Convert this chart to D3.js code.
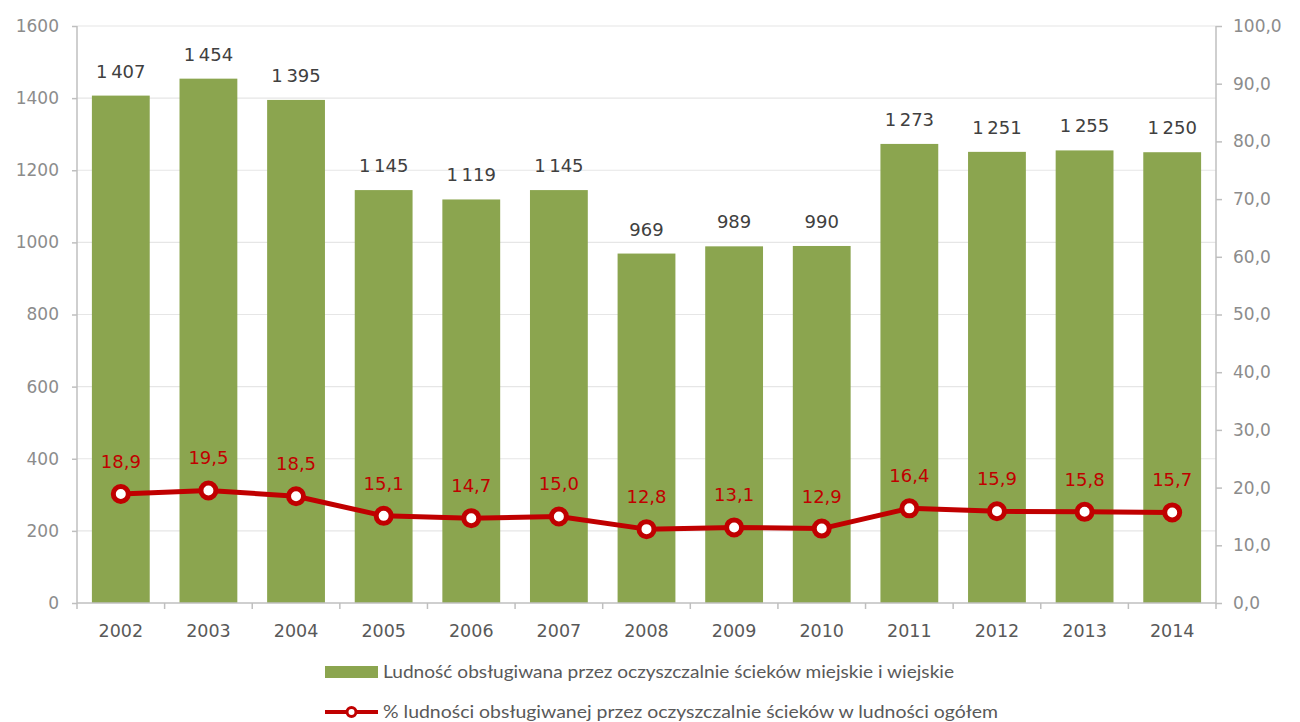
<!DOCTYPE html>
<html><head><meta charset="utf-8">
<script src="https://cdn.jsdelivr.net/npm/d3@7"></script>
<style>body{margin:0;background:#fff;} svg{display:block;}</style>
</head><body>
<script>
const years = ["2002","2003","2004","2005","2006","2007","2008","2009","2010","2011","2012","2013","2014"];
const population = [1407,1454,1395,1145,1119,1145,969,989,990,1273,1251,1255,1250];
const percentShare = [18.9,19.5,18.5,15.1,14.7,15.0,12.8,13.1,12.9,16.4,15.9,15.8,15.7];
const leftTicks = [0,200,400,600,800,1000,1200,1400,1600];
const rightTicks = [0,10,20,30,40,50,60,70,80,90,100];
const legendLabels = ["Ludność obsługiwana przez oczyszczalnie ścieków miejskie i wiejskie",
  "% ludności obsługiwanej przez oczyszczalnie ścieków w ludności ogółem"];

const W=1300,H=722;
const L=77,R=1216,T=26,B=603;
const green="#8ba54f", red="#c00000", axisCol="#bfbfbf", gridCol="#e6e6e6";
const numFont="'DejaVu Sans', sans-serif";

const svg=d3.select("body").append("svg").attr("width",W).attr("height",H);

const xOuter=d3.scaleBand().domain(years).range([L,R]);
const x=d3.scaleBand().domain(years).range([L,R]).paddingInner(0.34).paddingOuter(0.17);
const y=d3.scaleLinear().domain([0,1600]).range([B,T]);
const y2=d3.scaleLinear().domain([0,100]).range([B,T]);

// gridlines
svg.append("g").selectAll("line").data(leftTicks.filter(d=>d>0)).join("line")
  .attr("x1",L).attr("x2",R).attr("y1",d=>y(d)).attr("y2",d=>y(d))
  .attr("stroke",gridCol).attr("stroke-width",1.2);

// bars
svg.append("g").selectAll("rect").data(years).join("rect")
  .attr("x",d=>x(d)).attr("width",x.bandwidth())
  .attr("y",(d,i)=>y(population[i])).attr("height",(d,i)=>B-y(population[i]))
  .attr("fill",green);

// left axis
const fmtThousand=v=>{const s=String(v);return s.length>3?s.slice(0,-3)+"\u2009"+s.slice(-3):s;};
const gl=svg.append("g").attr("transform",`translate(${L},0)`)
  .call(d3.axisLeft(y).tickValues(leftTicks).tickSize(5).tickPadding(13).tickFormat(d=>String(d)));
gl.select(".domain").attr("stroke",axisCol).attr("stroke-width",1.5).attr("d",`M0,${T}V${B}`);
gl.selectAll(".tick line").attr("stroke",axisCol).attr("stroke-width",1.5);
gl.selectAll(".tick text").attr("fill","#8c8c8c").attr("font-size",17).attr("font-family",numFont);

// right axis
const fmtComma=d3.format(".1f");
const gr=svg.append("g").attr("transform",`translate(${R},0)`)
  .call(d3.axisRight(y2).tickValues(rightTicks).tickSize(6).tickPadding(11).tickFormat(d=>fmtComma(d).replace(".",",")));
gr.select(".domain").attr("stroke",axisCol).attr("stroke-width",1.5).attr("d",`M0,${T}V${B}`);
gr.selectAll(".tick line").attr("stroke",axisCol).attr("stroke-width",1.5);
gr.selectAll(".tick text").attr("fill","#8c8c8c").attr("font-size",17).attr("font-family",numFont);

// x axis
const gx=svg.append("g");
gx.append("line").attr("x1",L).attr("x2",R).attr("y1",B).attr("y2",B).attr("stroke",axisCol).attr("stroke-width",1.5);
gx.selectAll("line.tk").data(years.concat(["end"])).join("line").attr("class","tk")
  .attr("x1",d=>d==="end"?R:xOuter(d)).attr("x2",d=>d==="end"?R:xOuter(d))
  .attr("y1",B).attr("y2",B+6).attr("stroke",axisCol).attr("stroke-width",1.5);
gx.selectAll("text").data(years).join("text")
  .attr("x",d=>xOuter(d)+xOuter.bandwidth()/2).attr("y",B+34)
  .attr("text-anchor","middle").attr("fill","#595959").attr("font-size",17.5).attr("font-family",numFont)
  .text(d=>d);

// bar labels
svg.append("g").selectAll("text").data(years).join("text")
  .attr("x",d=>x(d)+x.bandwidth()/2).attr("y",(d,i)=>y(population[i])-18)
  .attr("text-anchor","middle").attr("fill","#404040").attr("font-size",18).attr("font-family",numFont)
  .text((d,i)=>fmtThousand(population[i]));

// line
const cx=d=>x(d)+x.bandwidth()/2;
svg.append("path").datum(years)
  .attr("d",d3.line().x(d=>cx(d)).y((d,i)=>y2(percentShare[i])))
  .attr("fill","none").attr("stroke",red).attr("stroke-width",5).attr("stroke-linejoin","round");
svg.append("g").selectAll("circle").data(years).join("circle")
  .attr("cx",d=>cx(d)).attr("cy",(d,i)=>y2(percentShare[i])).attr("r",7.5)
  .attr("fill","#fff").attr("stroke",red).attr("stroke-width",5);
svg.append("g").selectAll("text").data(years).join("text")
  .attr("x",d=>cx(d)).attr("y",(d,i)=>y2(percentShare[i])-26)
  .attr("text-anchor","middle").attr("fill",red).attr("font-size",18).attr("font-family",numFont)
  .text((d,i)=>fmtComma(percentShare[i]).replace(".",","));

// legend
const lg=svg.append("g");
lg.append("rect").attr("x",325).attr("y",666).attr("width",53).attr("height",12).attr("fill",green);
lg.append("text").attr("x",383).attr("y",678).attr("fill","#595959").attr("font-size",17).attr("font-family","Lato, sans-serif")
  .attr("textLength",571).attr("lengthAdjust","spacingAndGlyphs").text(legendLabels[0]);
lg.append("line").attr("x1",325).attr("x2",378).attr("y1",712).attr("y2",712).attr("stroke",red).attr("stroke-width",4);
lg.append("circle").attr("cx",351.5).attr("cy",712).attr("r",4.5).attr("fill","#fff").attr("stroke",red).attr("stroke-width",3);
lg.append("text").attr("x",383).attr("y",718).attr("fill","#595959").attr("font-size",17).attr("font-family","Lato, sans-serif")
  .attr("textLength",615).attr("lengthAdjust","spacingAndGlyphs").text(legendLabels[1]);
</script>
</body></html>
